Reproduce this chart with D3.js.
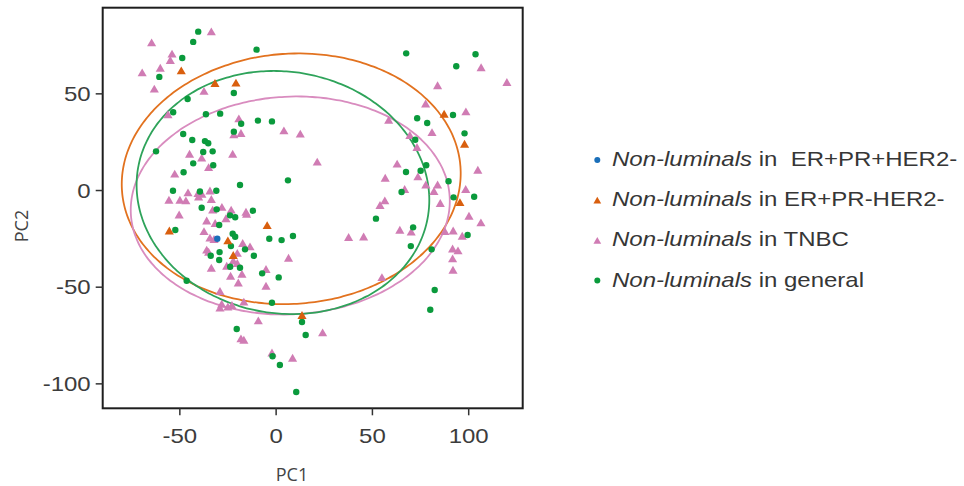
<!DOCTYPE html>
<html>
<head>
<meta charset="utf-8">
<script src="https://cdn.jsdelivr.net/npm/d3@7"></script>
<style>
    body { margin: 0; background: #fff; }
    svg { display: block; }
</style>
</head>
<body>
<div id="chart"></div>
<script>
// PCA scores (PC1, PC2)
const general = [
    [-40.2, 81.9], [-42.8, 76.6], [-48.5, 68.3], [-60.4, 58.5], [-9.9, 72.6], [-21.7, 50.2], [-45.7, 47.1],
    [-53.2, 40.2], [-36.2, 39.2], [-28.8, 39.5], [-17.9, 34.3], [-9.2, 35.9], [-1.9, 35.5], [-21.7, 30.2],
    [-48.0, 29.0], [-43.3, 25.9], [-36.7, 25.3], [-35.0, 24.2],
    [67.8, 70.7], [103.8, 70.2], [93.8, 64.0], [73.5, 37.1], [78.7, 34.7], [92.1, 38.8], [98.1, 29.3], [72.5, 26.0],
    [-62.1, 20.0], [-37.6, 19.7], [-32.7, 20.0], [-42.8, 13.8], [-32.4, 12.8], [-47.8, 9.2], [-53.3, -0.4],
    [-30.8, -0.4], [-39.3, -0.8], [-18.5, 2.6], [6.4, 5.0], [-38.4, -9.2], [-30.6, -10.0], [-11.8, -10.7],
    [-23.7, -13.1], [-21.0, -14.1], [-29.3, -18.1], [-52.1, -20.7], [-22.3, -22.6], [-21.0, -24.2], [-3.3, -25.2],
    [3.1, -25.9], [9.0, -23.8], [-23.2, -29.0], [-15.9, -30.7], [-29.1, -32.1], [-33.7, -34.0], [-11.3, -34.0],
    [-29.3, -36.2], [-18.5, -40.2], [-23.6, -39.7], [-7.0, -43.1], [1.6, -45.2],
    [78.2, 12.8], [67.7, 9.3], [75.3, 10.0], [89.8, 4.5], [65.4, -1.0], [92.4, -3.8], [103.1, -3.5], [52.1, -14.8],
    [71.4, -19.3], [99.7, -23.3], [70.2, -29.0], [81.0, -30.7],
    [-46.2, -46.9], [-1.9, -58.3], [13.7, -68.3], [15.6, -75.0], [-20.2, -71.9], [-1.6, -86.0], [2.2, -90.5],
    [10.7, -104.5], [82.6, -51.7], [80.3, -61.9]
];

const tnbc = [
    [-33.4, 81.9], [-64.4, 76.2], [-53.8, 70.4], [-54.7, 67.1], [-59.9, 63.1], [-69.3, 60.7], [-63.0, 52.3],
    [-37.2, 51.1], [-55.9, 39.0], [-19.1, 36.9], [-18.0, 29.3], [-21.7, 28.6], [4.3, 30.7], [12.8, 29.0],
    [106.7, 63.3], [120.1, 55.7], [84.1, 54.0], [77.9, 44.6], [98.8, 40.5], [58.7, 36.1], [81.2, 29.8], [69.7, 28.3],
    [-44.7, 18.6], [-38.4, 16.6], [-34.8, 11.7], [-22.3, 18.6], [-52.4, 8.3], [-45.5, -1.4], [-40.3, -1.7],
    [-38.3, -2.1], [-34.1, -0.4], [-55.4, -5.2], [-49.7, -5.2], [-46.6, -5.5], [-40.0, -3.5], [-33.4, -4.8],
    [-50.1, -12.8], [-32.7, -10.3], [-27.9, -8.9], [-23.1, -10.3], [-15.4, -11.4], [-15.1, -12.4], [-25.8, -14.8],
    [-35.8, -15.9], [-31.4, -17.2], [-37.2, -21.4], [-34.1, -24.8], [-32.0, -25.5], [-35.8, -31.0], [-34.8, -32.1],
    [-17.1, -27.6], [-13.3, -29.3], [-19.9, -32.7], [6.7, -35.2], [-22.0, -36.6], [-19.9, -37.9], [-25.4, -39.3],
    [-33.4, -40.4], [-5.0, -41.0], [-17.5, -43.5], [-23.4, -44.5],
    [21.6, 14.5], [73.4, 22.1], [63.1, 13.5], [56.9, 6.2], [73.9, 6.9], [78.0, 2.7], [84.1, 2.7], [82.2, -0.7],
    [67.0, 0.4], [105.0, 10.3], [98.7, 0.4], [85.5, -6.9], [56.7, -5.5], [54.2, -7.9], [100.4, -13.5],
    [106.6, -16.9], [64.5, -20.7], [70.4, -21.7], [87.9, -21.4], [92.2, -21.1], [96.9, -23.8], [37.9, -24.5],
    [45.7, -24.2], [91.9, -30.4], [94.7, -31.4], [91.9, -35.5], [92.1, -41.4], [55.2, -45.2],
    [-19.4, -48.0], [-5.0, -49.7], [-28.9, -52.4], [-28.0, -59.0], [-28.9, -61.0], [-24.8, -60.4], [-22.7, -59.6],
    [-16.5, -57.9], [-9.0, -67.6], [-18.0, -76.9], [-16.5, -77.6], [-1.9, -84.2], [8.8, -86.9], [24.4, -73.8]
];

const erPrHer2neg = [
    [-49.0, 61.7], [-31.5, 55.2], [-20.6, 55.4], [87.5, 39.3], [98.1, 23.8], [-55.2, -21.1],
    [-24.8, -26.2], [-22.0, -33.8], [-4.4, -18.3], [95.7, -6.4], [13.7, -64.8]
];

const erPrHer2pos = [
    [-30.3, -25.2]
];

// ellipses: [centre PC1, centre PC2, semi-axis PC1, semi-axis PC2, rotation in degrees]
const ellipseErPrHer2neg = [8.1, 5.8, 88.1, 64.7, 4];
const ellipseTnbc = [7.6, -8.0, 82.9, 56.3, 3];
const ellipseGeneral = [3.8, -1.3, 76.3, 62.5, -9];

const xTicks = [-50, 0, 50, 100];
const yTicks = [50, 0, -50, -100];

const legendLabels = [
    ["Non-luminals", " in  ER+PR+HER2-"],
    ["Non-luminals", " in ER+PR-HER2-"],
    ["Non-luminals", " in TNBC"],
    ["Non-luminals", " in general"]
];

const colBlue = "#1a6fb9";
const colOrange = "#d95f0e";
const colPink = "#d07cb4";
const colGreen = "#0a9a3c";

const width = 964;
const height = 486;
const plot = { left: 102.7, right: 522.7, top: 7.7, bottom: 408.3 };
const textFont = "'Liberation Sans', Arial, sans-serif";
const stretch = 1.2;

const svg = d3.select("#chart")
    .append("svg")
    .attr("width", width)
    .attr("height", height);

const x = d3.scaleLinear()
    .domain([-89.8, 128.3])
    .range([plot.left, plot.right]);

const y = d3.scaleLinear()
    .domain([-112.9, 94.3])
    .range([plot.bottom, plot.top]);

// ellipses go under the points
function ellipsePoints(e) {
    const a = e[4] * Math.PI / 180;
    return d3.range(0, 361, 2).map(function(deg) {
        const t = deg * Math.PI / 180;
        const ex = e[2] * Math.cos(t);
        const ey = e[3] * Math.sin(t);
        return [e[0] + ex * Math.cos(a) - ey * Math.sin(a), e[1] + ex * Math.sin(a) + ey * Math.cos(a)];
    });
}

const line = d3.line()
    .x(d => x(d[0]))
    .y(d => y(d[1]))
    .curve(d3.curveCardinalClosed);

[[ellipseErPrHer2neg, "#e2721f"], [ellipseTnbc, "#d98cbf"], [ellipseGeneral, "#2ea35a"]].forEach(function(item) {
    svg.append("path")
        .attr("d", line(ellipsePoints(item[0])))
        .attr("fill", "none")
        .attr("stroke", item[1])
        .attr("stroke-width", 1.8);
});

const tri = d3.symbol().type(d3.symbolTriangle).size(36);

svg.append("g").selectAll("path")
    .data(tnbc)
    .enter()
    .append("path")
    .attr("d", tri)
    .attr("transform", d => `translate(${x(d[0])},${y(d[1]) + 1})`)
    .attr("fill", colPink);

svg.append("g").selectAll("circle")
    .data(general)
    .enter()
    .append("circle")
    .attr("cx", d => x(d[0]))
    .attr("cy", d => y(d[1]))
    .attr("r", 3.2)
    .attr("fill", colGreen);

svg.append("g").selectAll("path")
    .data(erPrHer2neg)
    .enter()
    .append("path")
    .attr("d", tri)
    .attr("transform", d => `translate(${x(d[0])},${y(d[1]) + 1})`)
    .attr("fill", colOrange);

svg.append("g").selectAll("circle")
    .data(erPrHer2pos)
    .enter()
    .append("circle")
    .attr("cx", d => x(d[0]))
    .attr("cy", d => y(d[1]))
    .attr("r", 3.2)
    .attr("fill", colBlue);

// frame
svg.append("rect")
    .attr("x", plot.left)
    .attr("y", plot.top)
    .attr("width", plot.right - plot.left)
    .attr("height", plot.bottom - plot.top)
    .attr("fill", "none")
    .attr("stroke", "#1e1e1e")
    .attr("stroke-width", 2);

// axes (plain hyphen for negatives, as in the figure)
const xAxis = svg.append("g")
    .attr("transform", `translate(0,${plot.bottom})`)
    .call(d3.axisBottom(x).tickValues(xTicks).tickSize(7).tickSizeOuter(0).tickFormat(d => String(d)));

const yAxis = svg.append("g")
    .attr("transform", `translate(${plot.left},0)`)
    .call(d3.axisLeft(y).tickValues(yTicks).tickSize(7).tickSizeOuter(0).tickFormat(d => String(d)));

[xAxis, yAxis].forEach(function(g) {
    g.select(".domain").remove();
    g.selectAll(".tick line").attr("stroke", "#333").attr("stroke-width", 1.5);
    g.selectAll(".tick text")
        .attr("fill", "#3c3c3c")
        .style("font-family", textFont)
        .style("font-size", "20px");
});

xAxis.selectAll(".tick text")
    .attr("y", 35)
    .attr("dy", 0)
    .attr("transform", `scale(${stretch},1)`);

yAxis.selectAll(".tick text")
    .attr("x", -10)
    .attr("dy", "0.36em")
    .attr("transform", `scale(${stretch},1)`);

svg.append("text")
    .attr("x", 292)
    .attr("y", 481)
    .attr("text-anchor", "middle")
    .attr("fill", "#444")
    .style("font-family", "'Open Sans', sans-serif")
    .style("font-size", "18px")
    .text("PC1");

svg.append("text")
    .attr("transform", "translate(28,226) rotate(-90)")
    .attr("text-anchor", "middle")
    .attr("fill", "#444")
    .style("font-family", "'Open Sans', sans-serif")
    .style("font-size", "18px")
    .text("PC2");

// legend
const legendColors = [colBlue, colOrange, colPink, colGreen];
const legendShapes = ["circle", "triangle", "triangle", "circle"];
const legend = svg.append("g");

legendLabels.forEach(function(lab, i) {
    const baseY = 166 + i * 40.2;
    if (legendShapes[i] === "circle") {
        legend.append("circle")
            .attr("cx", 597.3)
            .attr("cy", baseY - 6)
            .attr("r", 3)
            .attr("fill", legendColors[i]);
    } else {
        legend.append("path")
            .attr("d", d3.symbol().type(d3.symbolTriangle).size(26)())
            .attr("transform", `translate(597.3,${baseY - 5})`)
            .attr("fill", legendColors[i]);
    }
    const t = legend.append("text")
        .attr("transform", `translate(612,${baseY}) scale(${stretch},1)`)
        .attr("fill", "#363636")
        .style("font-family", textFont)
        .style("font-size", "20px")
        .style("white-space", "pre");
    t.append("tspan").style("font-style", "italic").text(lab[0]);
    t.append("tspan").text(lab[1]);
});
</script>
</body>
</html>
